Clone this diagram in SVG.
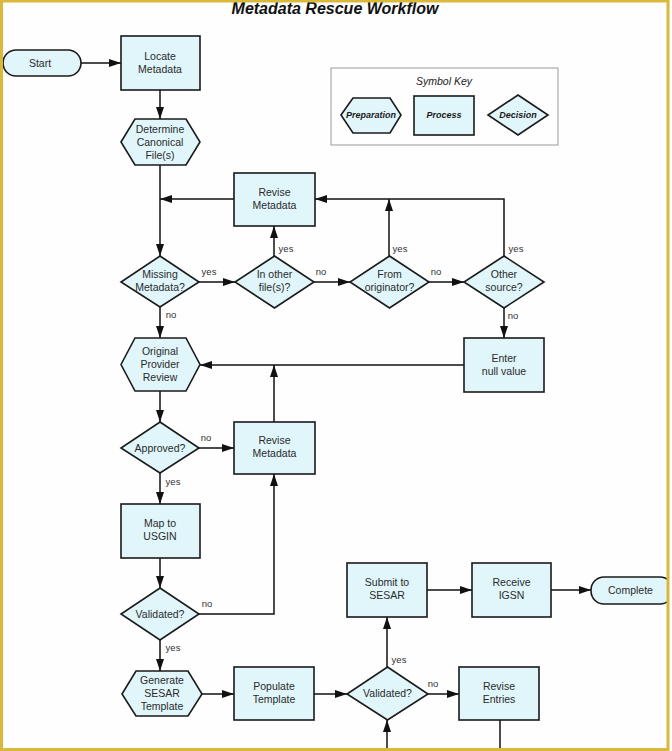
<svg xmlns="http://www.w3.org/2000/svg" width="672" height="751" viewBox="0 0 672 751">
<style>
.n{fill:#e0f6fa;stroke:#1a1a1a;stroke-width:1.6}
.t{font-family:"Liberation Sans",Arial,sans-serif;font-size:10.5px;fill:#2a2a2a;text-anchor:middle}
.k{font-family:"Liberation Sans",Arial,sans-serif;font-size:9px;font-weight:bold;font-style:italic;fill:#1a1a1a;text-anchor:middle}
.l{font-family:"Liberation Sans",Arial,sans-serif;font-size:9.5px;fill:#333;text-anchor:middle}
.c{fill:none;stroke:#111;stroke-width:1.5}
.a{marker-end:url(#ah)}
</style>
<defs>
<marker id="ah" markerUnits="userSpaceOnUse" markerWidth="12" markerHeight="8" refX="12" refY="4" orient="auto">
<path d="M0,0 L12,4 L0,8 z" fill="#111"/>
</marker>
</defs>
<rect x="0" y="0" width="672" height="751" fill="#fefefe"/>
<text x="335" y="14" font-family="Liberation Sans,Arial,sans-serif" font-size="16" font-weight="bold" font-style="italic" fill="#111" text-anchor="middle">Metadata Rescue Workflow</text>

<g id="connectors">
<path class="c a" d="M81,63 H121"/>
<path class="c a" d="M160,90 V119"/>
<path class="c a" d="M160,165 V256"/>
<path class="c a" d="M234,199 H160"/>
<path class="c a" d="M199,282 H235"/>
<path class="c a" d="M274,256 V226"/>
<path class="c a" d="M314,282 H350"/>
<path class="c a" d="M389,256 V199"/>
<path class="c a" d="M429,282 H464"/>
<path class="c a" d="M504,256 V199 H315"/>
<path class="c a" d="M504,308 V338"/>
<path class="c a" d="M464,365 H200"/>
<path class="c a" d="M160,307 V338"/>
<path class="c a" d="M160,391 V422"/>
<path class="c a" d="M199,448 H234"/>
<path class="c a" d="M274,422 V365"/>
<path class="c a" d="M160,473 V504"/>
<path class="c a" d="M160,558 V588"/>
<path class="c a" d="M199,614 H274 V474"/>
<path class="c a" d="M160,640 V671"/>
<path class="c a" d="M202,694 H234"/>
<path class="c a" d="M314,694 H347"/>
<path class="c a" d="M387,751 V720"/>
<path class="c a" d="M387,667 V617"/>
<path class="c a" d="M427,590 H472"/>
<path class="c a" d="M551,590 H591"/>
<path class="c a" d="M428,694 H459"/>
<path class="c" d="M500,720 V751"/>
<text class="l" x="209" y="275">yes</text>
<text class="l" x="286" y="252">yes</text>
<text class="l" x="321" y="275">no</text>
<text class="l" x="400" y="252">yes</text>
<text class="l" x="436" y="275">no</text>
<text class="l" x="516" y="252">yes</text>
<text class="l" x="513" y="319">no</text>
<text class="l" x="171" y="318">no</text>
<text class="l" x="206" y="441">no</text>
<text class="l" x="173" y="485">yes</text>
<text class="l" x="207" y="607">no</text>
<text class="l" x="173" y="651">yes</text>
<text class="l" x="399" y="663">yes</text>
<text class="l" x="433" y="687">no</text>
</g>

<g id="symbolkey">
<rect x="331" y="68" width="227" height="77" fill="none" stroke="#999" stroke-width="1"/>
<text x="444" y="85" font-family="Liberation Sans,Arial,sans-serif" font-size="10.5" font-style="italic" fill="#222" text-anchor="middle">Symbol Key</text>
<polygon class="n" points="341,115 353,98 390,98 401,115 390,133 353,133"/>
<text class="k" x="371" y="118">Preparation</text>
<rect class="n" x="414" y="96" width="60" height="39"/>
<text class="k" x="444" y="118">Process</text>
<polygon class="n" points="518,95 548,115 518,135 488,115"/>
<text class="k" x="518" y="118">Decision</text>
</g>

<g id="start"><rect class="n" x="3" y="50" width="78" height="26" rx="13"/><text class="t" x="40" y="67">Start</text></g>
<g id="locate"><rect class="n" x="121" y="36" width="79" height="54"/><text class="t" x="160" y="60">Locate</text><text class="t" x="160" y="73">Metadata</text></g>
<g id="determine"><polygon class="n" points="121,142 135,119 186,119 200,142 186,165 135,165"/><text class="t" x="160" y="133">Determine</text><text class="t" x="160" y="146">Canonical</text><text class="t" x="160" y="159">File(s)</text></g>
<g id="revise1"><rect class="n" x="234" y="173" width="81" height="53"/><text class="t" x="274.5" y="196">Revise</text><text class="t" x="274.5" y="209">Metadata</text></g>
<g id="missing"><polygon class="n" points="160,256 199,282 160,307 121,282"/><text class="t" x="160" y="278">Missing</text><text class="t" x="160" y="291">Metadata?</text></g>
<g id="inother"><polygon class="n" points="274.5,256 314,282 274.5,308 235,282"/><text class="t" x="274.5" y="278">In other</text><text class="t" x="274.5" y="291">file(s)?</text></g>
<g id="fromorig"><polygon class="n" points="389.5,256 429,282 389.5,308 350,282"/><text class="t" x="389.5" y="278">From</text><text class="t" x="389.5" y="291">originator?</text></g>
<g id="othersrc"><polygon class="n" points="504,256 544,282 504,308 464,282"/><text class="t" x="504" y="278">Other</text><text class="t" x="504" y="291">source?</text></g>
<g id="enternull"><rect class="n" x="464" y="338" width="80" height="54"/><text class="t" x="504" y="362">Enter</text><text class="t" x="504" y="375">null value</text></g>
<g id="review"><polygon class="n" points="121,364.5 135,338 186,338 200,364.5 186,391 135,391"/><text class="t" x="160" y="355">Original</text><text class="t" x="160" y="368">Provider</text><text class="t" x="160" y="381">Review</text></g>
<g id="approved"><polygon class="n" points="160,422 199,448 160,473 121,448"/><text class="t" x="160" y="452">Approved?</text></g>
<g id="revise2"><rect class="n" x="234" y="422" width="81" height="52"/><text class="t" x="274.5" y="444">Revise</text><text class="t" x="274.5" y="457">Metadata</text></g>
<g id="map"><rect class="n" x="121" y="504" width="79" height="54"/><text class="t" x="160" y="527">Map to</text><text class="t" x="160" y="540">USGIN</text></g>
<g id="validated1"><polygon class="n" points="160,588 199,614 160,640 121,614"/><text class="t" x="160" y="618">Validated?</text></g>
<g id="generate"><polygon class="n" points="122,694 136,671 188,671 202,694 188,716 136,716"/><text class="t" x="162" y="684">Generate</text><text class="t" x="162" y="697">SESAR</text><text class="t" x="162" y="710">Template</text></g>
<g id="populate"><rect class="n" x="234" y="667" width="80" height="53"/><text class="t" x="274" y="690">Populate</text><text class="t" x="274" y="703">Template</text></g>
<g id="validated2"><polygon class="n" points="387.5,667 428,694 387.5,720 347,694"/><text class="t" x="387.5" y="697">Validated?</text></g>
<g id="submit"><rect class="n" x="347" y="563" width="80" height="54"/><text class="t" x="387" y="586">Submit to</text><text class="t" x="387" y="599">SESAR</text></g>
<g id="receive"><rect class="n" x="472" y="563" width="79" height="54"/><text class="t" x="511.5" y="586">Receive</text><text class="t" x="511.5" y="599">IGSN</text></g>
<g id="complete"><rect class="n" x="591" y="577" width="82" height="27" rx="13"/><text class="t" x="630.5" y="594">Complete</text></g>
<g id="reviseentries"><rect class="n" x="459" y="667" width="80" height="53"/><text class="t" x="499" y="690">Revise</text><text class="t" x="499" y="703">Entries</text></g>

<rect x="1.5" y="1" width="667" height="748.5" fill="none" stroke="#d9b83c" stroke-width="3"/>
<rect x="668" y="0" width="4" height="751" fill="#ffffff"/>
<rect x="666.5" y="0" width="3" height="751" fill="#d9b83c"/>
</svg>
